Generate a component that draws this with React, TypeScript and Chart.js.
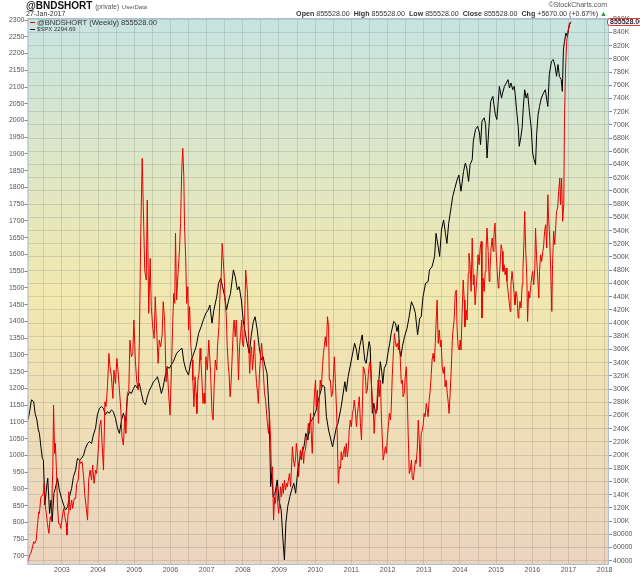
import { useEffect, useRef } from "react"
import { Chart, registerables } from "chart.js"

Chart.register(...registerables)

const FONT = "'Liberation Sans', Arial, sans-serif"

// $SPX weekly close: [decimal year, index level]
const spxPoints: [number, number][] = [
  [2002.06, 1106], [2002.11, 1131], [2002.16, 1166], [2002.22, 1161], [2002.26, 1126], [2002.31, 1106],
  [2002.35, 1076], [2002.38, 1066], [2002.42, 1026], [2002.46, 991], [2002.49, 986], [2002.53, 852],
  [2002.57, 897], [2002.61, 932], [2002.66, 827], [2002.7, 867], [2002.73, 802], [2002.78, 887],
  [2002.82, 902], [2002.88, 932], [2002.93, 897], [2002.99, 872], [2003.05, 852], [2003.1, 837],
  [2003.16, 847], [2003.21, 877], [2003.27, 902], [2003.32, 937], [2003.38, 956], [2003.43, 991],
  [2003.49, 986], [2003.54, 991], [2003.6, 1001], [2003.65, 1021], [2003.71, 1036], [2003.76, 1041],
  [2003.82, 1036], [2003.87, 1061], [2003.93, 1081], [2003.98, 1121], [2004.04, 1141], [2004.09, 1146],
  [2004.15, 1141], [2004.2, 1121], [2004.26, 1131], [2004.31, 1126], [2004.37, 1136], [2004.42, 1131],
  [2004.48, 1111], [2004.54, 1081], [2004.59, 1066], [2004.65, 1106], [2004.7, 1126], [2004.76, 1101],
  [2004.81, 1175], [2004.87, 1190], [2004.92, 1185], [2004.98, 1200], [2005.03, 1210], [2005.09, 1200],
  [2005.14, 1215], [2005.2, 1185], [2005.25, 1160], [2005.31, 1151], [2005.36, 1175], [2005.42, 1195],
  [2005.47, 1205], [2005.53, 1220], [2005.58, 1225], [2005.64, 1235], [2005.69, 1215], [2005.75, 1185],
  [2005.8, 1205], [2005.86, 1240], [2005.91, 1265], [2005.97, 1260], [2006.02, 1270], [2006.08, 1280],
  [2006.17, 1305], [2006.26, 1315], [2006.32, 1320], [2006.37, 1280], [2006.43, 1255], [2006.5, 1240],
  [2006.56, 1280], [2006.63, 1300], [2006.71, 1325], [2006.78, 1365], [2006.85, 1385], [2006.91, 1405],
  [2006.98, 1425], [2007.04, 1434], [2007.09, 1449], [2007.15, 1395], [2007.2, 1434], [2007.28, 1474],
  [2007.33, 1514], [2007.39, 1529], [2007.44, 1504], [2007.5, 1474], [2007.55, 1434], [2007.61, 1464],
  [2007.66, 1484], [2007.74, 1554], [2007.79, 1534], [2007.85, 1494], [2007.9, 1504], [2007.96, 1464],
  [2008.01, 1404], [2008.07, 1365], [2008.12, 1335], [2008.18, 1305], [2008.23, 1355], [2008.29, 1399],
  [2008.34, 1414], [2008.4, 1375], [2008.45, 1325], [2008.51, 1285], [2008.56, 1295], [2008.62, 1265],
  [2008.67, 1245], [2008.73, 1126], [2008.77, 907], [2008.8, 947], [2008.84, 877], [2008.89, 887],
  [2008.95, 927], [2009.0, 867], [2009.06, 837], [2009.11, 748], [2009.15, 688], [2009.19, 798],
  [2009.24, 847], [2009.3, 877], [2009.35, 897], [2009.41, 917], [2009.46, 887], [2009.52, 957],
  [2009.57, 987], [2009.63, 1006], [2009.69, 1026], [2009.74, 1066], [2009.8, 1046], [2009.85, 1096],
  [2009.91, 1106], [2009.96, 1116], [2010.03, 1136], [2010.09, 1166], [2010.14, 1186], [2010.2, 1210],
  [2010.26, 1205], [2010.31, 1116], [2010.37, 1076], [2010.48, 1026], [2010.59, 1086], [2010.63, 1096],
  [2010.72, 1146], [2010.82, 1220], [2010.86, 1191], [2010.91, 1235], [2011.0, 1285], [2011.09, 1335],
  [2011.14, 1315], [2011.18, 1285], [2011.23, 1325], [2011.3, 1360], [2011.37, 1285], [2011.41, 1275],
  [2011.49, 1340], [2011.52, 1325], [2011.58, 1126], [2011.62, 1156], [2011.67, 1126], [2011.71, 1136],
  [2011.74, 1196], [2011.8, 1280], [2011.84, 1250], [2011.87, 1215], [2011.91, 1260], [2011.97, 1275],
  [2012.01, 1305], [2012.06, 1335], [2012.1, 1365], [2012.17, 1400], [2012.22, 1395], [2012.26, 1370],
  [2012.3, 1390], [2012.33, 1315], [2012.37, 1295], [2012.41, 1325], [2012.47, 1355], [2012.54, 1380],
  [2012.59, 1410], [2012.66, 1459], [2012.72, 1444], [2012.77, 1424], [2012.83, 1360], [2012.89, 1410],
  [2012.93, 1414], [2012.98, 1474], [2013.05, 1514], [2013.12, 1519], [2013.16, 1554], [2013.23, 1564],
  [2013.3, 1594], [2013.34, 1663], [2013.4, 1623], [2013.44, 1594], [2013.49, 1673], [2013.55, 1703],
  [2013.6, 1663], [2013.64, 1633], [2013.69, 1693], [2013.76, 1743], [2013.8, 1773], [2013.86, 1798],
  [2013.92, 1822], [2013.97, 1837], [2014.03, 1789], [2014.1, 1848], [2014.15, 1873], [2014.19, 1858],
  [2014.24, 1818], [2014.28, 1868], [2014.34, 1883], [2014.37, 1938], [2014.43, 1973], [2014.49, 1983],
  [2014.54, 1963], [2014.57, 1928], [2014.61, 1998], [2014.67, 2008], [2014.71, 1988], [2014.75, 1888],
  [2014.8, 1978], [2014.85, 2057], [2014.91, 2072], [2014.94, 2047], [2014.98, 2017], [2015.02, 2003],
  [2015.06, 2057], [2015.09, 2102], [2015.15, 2067], [2015.18, 2082], [2015.23, 2102], [2015.28, 2112],
  [2015.33, 2122], [2015.37, 2097], [2015.41, 2112], [2015.46, 2092], [2015.5, 2102], [2015.53, 2077],
  [2015.57, 2027], [2015.61, 1983], [2015.64, 1923], [2015.68, 1948], [2015.72, 1978], [2015.75, 2037],
  [2015.79, 2092], [2015.83, 2067], [2015.87, 2082], [2015.92, 2027], [2015.97, 1978], [2016.01, 1903],
  [2016.05, 1883], [2016.09, 1868], [2016.12, 1958], [2016.16, 2017], [2016.2, 2042], [2016.25, 2067],
  [2016.31, 2082], [2016.36, 2092], [2016.4, 2062], [2016.43, 2042], [2016.47, 2137], [2016.53, 2177],
  [2016.58, 2182], [2016.63, 2162], [2016.67, 2132], [2016.71, 2167], [2016.75, 2132], [2016.8, 2122],
  [2016.83, 2087], [2016.86, 2211], [2016.89, 2236], [2016.93, 2261], [2016.97, 2251], [2017.0, 2271],
  [2017.03, 2286], [2017.07, 2294.69],
]

// @BNDSHORT weekly close in thousands: [decimal year, value K]
const bndPoints: [number, number][] = [
  [2002.06, 38.4], [2002.11, 48.5], [2002.14, 51.0], [2002.18, 58.6], [2002.22, 68.7], [2002.25, 66.2],
  [2002.29, 71.2], [2002.33, 96.4], [2002.36, 114.1], [2002.38, 111.6], [2002.42, 136.8], [2002.48, 139.4],
  [2002.51, 157.1], [2002.54, 124.2], [2002.57, 111.6], [2002.6, 96.4], [2002.64, 81.3], [2002.68, 106.6],
  [2002.71, 101.5], [2002.75, 182.3], [2002.77, 275.7], [2002.8, 202.5], [2002.82, 217.6], [2002.85, 177.3],
  [2002.88, 121.7], [2002.91, 96.4], [2002.94, 96.4], [2002.97, 88.9], [2003.01, 106.6], [2003.05, 119.2],
  [2003.08, 106.6], [2003.12, 96.4], [2003.14, 78.8], [2003.17, 111.6], [2003.19, 144.4], [2003.23, 116.7],
  [2003.27, 131.8], [2003.3, 119.2], [2003.34, 134.3], [2003.38, 134.3], [2003.41, 157.1], [2003.45, 162.1],
  [2003.49, 192.4], [2003.52, 187.3], [2003.56, 189.9], [2003.6, 167.2], [2003.63, 141.9], [2003.67, 121.7],
  [2003.71, 101.5], [2003.74, 162.1], [2003.78, 177.3], [2003.82, 162.1], [2003.85, 184.8], [2003.89, 157.1],
  [2003.93, 177.3], [2003.96, 172.2], [2004.0, 202.5], [2004.04, 242.9], [2004.08, 253.0], [2004.11, 217.6],
  [2004.15, 177.3], [2004.19, 280.8], [2004.22, 273.2], [2004.26, 303.5], [2004.3, 354.0], [2004.33, 333.8],
  [2004.37, 318.7], [2004.41, 285.9], [2004.44, 328.8], [2004.48, 308.6], [2004.52, 346.4], [2004.55, 328.8],
  [2004.59, 298.4], [2004.63, 268.1], [2004.66, 227.7], [2004.7, 215.1], [2004.74, 258.0], [2004.77, 232.8],
  [2004.81, 293.4], [2004.85, 298.4], [2004.88, 374.2], [2004.92, 348.9], [2004.96, 354.0], [2004.99, 404.5],
  [2005.03, 343.9], [2005.07, 311.1], [2005.11, 298.4], [2005.14, 369.2], [2005.18, 535.8], [2005.22, 649.4],
  [2005.25, 576.2], [2005.29, 480.3], [2005.33, 465.1], [2005.36, 586.3], [2005.4, 414.6], [2005.44, 497.9],
  [2005.47, 424.7], [2005.51, 394.4], [2005.55, 376.7], [2005.58, 439.8], [2005.62, 389.4], [2005.66, 338.9],
  [2005.69, 374.2], [2005.73, 364.1], [2005.77, 381.8], [2005.8, 432.3], [2005.84, 404.5], [2005.88, 311.1],
  [2005.91, 333.8], [2005.95, 293.4], [2005.99, 260.6], [2006.03, 333.8], [2006.06, 394.4], [2006.09, 444.9],
  [2006.12, 429.7], [2006.14, 535.8], [2006.17, 434.8], [2006.21, 475.2], [2006.25, 510.5], [2006.28, 551.0],
  [2006.31, 626.7], [2006.34, 664.6], [2006.37, 621.7], [2006.39, 545.9], [2006.42, 500.5], [2006.45, 429.7],
  [2006.48, 455.0], [2006.5, 389.4], [2006.53, 424.7], [2006.56, 369.2], [2006.6, 343.9], [2006.62, 313.6],
  [2006.65, 273.2], [2006.68, 318.7], [2006.71, 293.4], [2006.73, 263.1], [2006.76, 313.6], [2006.79, 323.7],
  [2006.82, 361.6], [2006.84, 343.9], [2006.87, 313.6], [2006.9, 278.2], [2006.93, 293.4], [2006.95, 278.2],
  [2006.98, 348.9], [2007.02, 328.8], [2007.06, 374.2], [2007.08, 354.0], [2007.11, 323.7], [2007.15, 263.1],
  [2007.18, 253.0], [2007.21, 308.6], [2007.24, 343.9], [2007.28, 328.8], [2007.3, 364.1], [2007.34, 394.4],
  [2007.37, 444.9], [2007.4, 465.1], [2007.43, 520.7], [2007.46, 495.4], [2007.49, 465.1], [2007.51, 434.8],
  [2007.54, 414.6], [2007.57, 364.1], [2007.6, 333.8], [2007.62, 323.7], [2007.65, 288.3], [2007.68, 313.6],
  [2007.71, 354.0], [2007.74, 394.4], [2007.76, 404.5], [2007.79, 379.2], [2007.82, 404.5], [2007.86, 354.0],
  [2007.88, 313.6], [2007.91, 364.1], [2007.94, 384.3], [2007.97, 404.5], [2007.99, 369.2], [2008.02, 364.1],
  [2008.05, 404.5], [2008.08, 480.3], [2008.1, 465.1], [2008.13, 444.9], [2008.16, 374.2], [2008.19, 323.7],
  [2008.21, 348.9], [2008.24, 364.1], [2008.27, 328.8], [2008.3, 354.0], [2008.32, 374.2], [2008.35, 333.8],
  [2008.38, 308.6], [2008.41, 293.4], [2008.43, 278.2], [2008.46, 323.7], [2008.49, 348.9], [2008.52, 369.2],
  [2008.54, 354.0], [2008.57, 323.7], [2008.6, 293.4], [2008.63, 283.3], [2008.65, 268.1], [2008.68, 248.0],
  [2008.71, 232.8], [2008.74, 258.1], [2008.77, 222.7], [2008.79, 172.2], [2008.82, 182.3], [2008.85, 101.5],
  [2008.88, 136.8], [2008.9, 126.8], [2008.93, 152.0], [2008.96, 131.8], [2008.99, 111.6], [2009.01, 121.7],
  [2009.04, 152.0], [2009.07, 136.8], [2009.1, 157.1], [2009.12, 141.9], [2009.15, 162.1], [2009.18, 147.0],
  [2009.21, 157.1], [2009.23, 152.0], [2009.26, 162.1], [2009.29, 172.2], [2009.32, 152.0], [2009.34, 172.2],
  [2009.37, 212.6], [2009.4, 192.4], [2009.43, 182.3], [2009.46, 197.4], [2009.48, 217.6], [2009.51, 202.5],
  [2009.54, 167.1], [2009.57, 192.4], [2009.59, 207.5], [2009.62, 192.4], [2009.65, 212.6], [2009.68, 187.4],
  [2009.7, 202.5], [2009.73, 207.5], [2009.76, 222.7], [2009.79, 232.8], [2009.81, 248.0], [2009.84, 232.8],
  [2009.87, 263.1], [2009.9, 222.7], [2009.92, 202.5], [2009.95, 258.1], [2009.98, 293.4], [2010.01, 313.6],
  [2010.03, 273.2], [2010.06, 298.5], [2010.09, 248.0], [2010.12, 293.4], [2010.14, 313.6], [2010.17, 298.5],
  [2010.2, 333.8], [2010.23, 354.0], [2010.25, 364.1], [2010.28, 379.2], [2010.31, 364.1], [2010.34, 409.5],
  [2010.37, 394.4], [2010.39, 313.6], [2010.42, 313.6], [2010.45, 288.3], [2010.48, 293.4], [2010.5, 313.6],
  [2010.53, 348.9], [2010.56, 308.6], [2010.59, 268.2], [2010.61, 232.8], [2010.64, 157.0], [2010.67, 182.3],
  [2010.7, 179.8], [2010.72, 205.0], [2010.75, 192.4], [2010.78, 202.5], [2010.81, 212.6], [2010.83, 197.4],
  [2010.86, 217.6], [2010.89, 197.4], [2010.92, 212.6], [2010.94, 237.9], [2010.97, 253.0], [2011.0, 242.9],
  [2011.03, 263.1], [2011.06, 270.7], [2011.08, 283.3], [2011.11, 268.2], [2011.14, 242.9], [2011.17, 263.1],
  [2011.19, 273.2], [2011.22, 288.3], [2011.25, 248.0], [2011.28, 222.7], [2011.3, 263.1], [2011.33, 333.8],
  [2011.36, 328.8], [2011.39, 318.7], [2011.41, 293.4], [2011.44, 298.4], [2011.47, 323.7], [2011.5, 338.9],
  [2011.52, 341.4], [2011.55, 313.6], [2011.58, 283.3], [2011.61, 263.1], [2011.63, 232.8], [2011.66, 268.2],
  [2011.69, 263.1], [2011.72, 293.4], [2011.74, 313.6], [2011.77, 288.3], [2011.8, 313.6], [2011.83, 258.1],
  [2011.86, 217.6], [2011.88, 192.4], [2011.91, 202.5], [2011.94, 212.6], [2011.97, 202.5], [2011.99, 222.7],
  [2012.02, 242.9], [2012.05, 263.1], [2012.08, 253.0], [2012.1, 268.2], [2012.13, 318.7], [2012.16, 354.0],
  [2012.19, 384.3], [2012.21, 374.2], [2012.24, 364.1], [2012.27, 369.2], [2012.3, 359.1], [2012.32, 374.2],
  [2012.35, 348.9], [2012.38, 308.6], [2012.41, 313.6], [2012.43, 288.3], [2012.46, 293.4], [2012.49, 318.7],
  [2012.52, 333.8], [2012.54, 298.4], [2012.57, 232.8], [2012.6, 172.2], [2012.63, 177.2], [2012.66, 192.4],
  [2012.68, 167.2], [2012.71, 162.1], [2012.74, 177.2], [2012.77, 192.4], [2012.79, 187.4], [2012.82, 207.5],
  [2012.85, 253.0], [2012.88, 217.6], [2012.9, 182.3], [2012.93, 232.8], [2012.96, 237.9], [2012.99, 248.0],
  [2013.01, 263.1], [2013.04, 258.1], [2013.07, 278.3], [2013.1, 268.2], [2013.12, 258.1], [2013.15, 283.3],
  [2013.18, 298.4], [2013.21, 323.7], [2013.23, 343.9], [2013.26, 354.0], [2013.29, 341.4], [2013.32, 369.2],
  [2013.34, 399.4], [2013.37, 434.8], [2013.4, 369.2], [2013.43, 389.4], [2013.46, 364.1], [2013.48, 374.2],
  [2013.51, 333.8], [2013.54, 323.7], [2013.57, 333.8], [2013.59, 303.5], [2013.62, 313.6], [2013.65, 293.4],
  [2013.68, 278.3], [2013.7, 263.1], [2013.73, 293.4], [2013.76, 328.8], [2013.79, 374.2], [2013.81, 389.4],
  [2013.84, 404.5], [2013.87, 444.9], [2013.9, 450.0], [2013.92, 394.4], [2013.95, 364.1], [2013.98, 359.1],
  [2014.01, 374.2], [2014.03, 359.1], [2014.06, 414.6], [2014.09, 465.1], [2014.12, 434.8], [2014.14, 394.4],
  [2014.17, 419.6], [2014.2, 404.5], [2014.23, 475.2], [2014.25, 505.5], [2014.28, 488.3], [2014.31, 447.9],
  [2014.34, 528.7], [2014.37, 457.9], [2014.39, 473.1], [2014.42, 427.7], [2014.45, 452.9], [2014.48, 478.2],
  [2014.5, 503.4], [2014.53, 488.3], [2014.56, 513.5], [2014.59, 523.6], [2014.61, 407.5], [2014.64, 468.1],
  [2014.67, 447.9], [2014.7, 478.2], [2014.72, 508.5], [2014.75, 543.8], [2014.78, 508.5], [2014.81, 463.0],
  [2014.83, 478.2], [2014.86, 513.5], [2014.89, 528.7], [2014.92, 508.5], [2014.94, 533.7], [2014.97, 551.4],
  [2015.0, 508.5], [2015.03, 478.2], [2015.06, 452.9], [2015.08, 463.0], [2015.11, 488.3], [2015.14, 518.6],
  [2015.17, 508.5], [2015.19, 478.2], [2015.22, 488.3], [2015.25, 473.1], [2015.28, 483.2], [2015.3, 463.0],
  [2015.33, 447.9], [2015.36, 432.7], [2015.39, 417.6], [2015.41, 457.9], [2015.44, 478.2], [2015.47, 463.0],
  [2015.5, 442.8], [2015.52, 427.7], [2015.55, 447.9], [2015.58, 437.8], [2015.61, 407.5], [2015.63, 417.6],
  [2015.66, 432.7], [2015.69, 422.6], [2015.72, 457.9], [2015.74, 478.2], [2015.77, 523.6], [2015.79, 569.1],
  [2015.82, 508.5], [2015.85, 468.1], [2015.87, 402.4], [2015.9, 447.9], [2015.93, 437.8], [2015.96, 457.9],
  [2015.98, 468.1], [2016.01, 478.2], [2016.04, 457.9], [2016.07, 483.2], [2016.09, 543.8], [2016.12, 498.4],
  [2016.15, 468.1], [2016.18, 437.8], [2016.2, 478.2], [2016.23, 503.4], [2016.26, 493.3], [2016.29, 508.5],
  [2016.31, 513.5], [2016.34, 538.8], [2016.37, 548.9], [2016.4, 513.5], [2016.43, 594.3], [2016.45, 559.0],
  [2016.48, 528.7], [2016.51, 478.2], [2016.54, 417.6], [2016.56, 488.3], [2016.59, 538.8], [2016.62, 518.6],
  [2016.65, 548.9], [2016.67, 569.1], [2016.7, 574.1], [2016.73, 599.4], [2016.76, 619.6], [2016.78, 579.2],
  [2016.81, 619.6], [2016.84, 553.9], [2016.87, 579.2], [2016.89, 710.5], [2016.92, 786.2], [2016.95, 826.6],
  [2016.98, 839.2], [2017.0, 846.8], [2017.03, 854.4], [2017.07, 855.528],
]

const yearLabels = [2003, 2004, 2005, 2006, 2007, 2008, 2009, 2010, 2011, 2012, 2013, 2014, 2015, 2016, 2017, 2018]
const spxTicks = [
  700, 750, 800, 850, 900, 950, 1000, 1050, 1100, 1150, 1200, 1250, 1300, 1350, 1400, 1450, 1500,
  1550, 1600, 1650, 1700, 1750, 1800, 1850, 1900, 1950, 2000, 2050, 2100, 2150, 2200, 2250, 2300,
]
const bndTicksK = [
  40, 60, 80, 100, 120, 140, 160, 180, 200, 220, 240, 260, 280, 300, 320, 340, 360, 380, 400, 420, 440,
  460, 480, 500, 520, 540, 560, 580, 600, 620, 640, 660, 680, 700, 720, 740, 760, 780, 800, 820, 840, 860,
]

const tickFont = { family: FONT, size: 7 }
const gridColor = "rgba(105, 125, 110, 0.22)"

const plotBackground = {
  id: "plotBackground",
  beforeDraw(chart: Chart) {
    const { ctx, chartArea: a } = chart
    const g = ctx.createLinearGradient(0, a.top, 0, a.bottom)
    g.addColorStop(0, "#c7e4e1")
    g.addColorStop(0.5, "#f1e8af")
    g.addColorStop(1, "#ecd3bf")
    ctx.save()
    ctx.fillStyle = g
    ctx.fillRect(a.left, a.top, a.right - a.left, a.bottom - a.top)
    ctx.restore()
  },
  afterDatasetsDraw(chart: Chart) {
    const { ctx, chartArea: a } = chart
    ctx.save()
    ctx.strokeStyle = "#a9c0d6"
    ctx.lineWidth = 1
    ctx.strokeRect(a.left + 0.5, a.top + 0.5, a.right - a.left - 1, a.bottom - a.top - 1)
    ctx.restore()
  },
}

export default function App() {
  const canvasRef = useRef<HTMLCanvasElement>(null)
  const chartRef = useRef<Chart | null>(null)

  useEffect(() => {
    document.body.style.margin = "0"
    if (!canvasRef.current) return
    const ctx = canvasRef.current.getContext("2d")
    if (!ctx) return

    chartRef.current = new Chart(ctx, {
      type: "line",
      data: {
        datasets: [
          {
            label: "@BNDSHORT",
            data: bndPoints.map(([x, y]) => ({ x, y })),
            yAxisID: "y2",
            borderColor: "rgb(232, 0, 0)",
            borderWidth: 1,
            pointRadius: 0,
          },
          {
            label: "$SPX",
            data: spxPoints.map(([x, y]) => ({ x, y })),
            yAxisID: "y",
            borderColor: "#000",
            borderWidth: 1,
            pointRadius: 0,
          },
        ],
      },
      options: {
        responsive: false,
        animation: false,
        layout: { padding: { top: 18, left: 0, right: 0, bottom: 0 } },
        plugins: { legend: { display: false }, tooltip: { enabled: false } },
        scales: {
          x: {
            type: "linear",
            min: 2002.05,
            max: 2018.12,
            afterBuildTicks: (scale: any) => {
              scale.ticks = yearLabels.flatMap((y) => [y - 0.5, y]).map((value) => ({ value }))
            },
            afterFit: (scale: any) => {
              scale.height = 11
            },
            ticks: {
              autoSkip: false,
              maxRotation: 0,
              padding: 1,
              font: tickFont,
              color: "#555",
              callback: (v: any) => (Number.isInteger(v) ? String(v) : ""),
            },
            grid: { color: gridColor, tickLength: 0 },
            border: { display: false },
          },
          y: {
            position: "left",
            min: 673,
            max: 2306,
            afterBuildTicks: (scale: any) => {
              scale.ticks = spxTicks.map((value) => ({ value }))
            },
            afterFit: (scale: any) => {
              scale.width = 27.5
            },
            ticks: {
              autoSkip: false,
              padding: 0,
              font: tickFont,
              color: "#555",
              callback: (v: any) => String(v),
            },
            grid: { drawOnChartArea: false, tickLength: 3, tickColor: "#8a8a8a" },
            border: { display: false },
          },
          y2: {
            position: "right",
            min: 33.49,
            max: 861.97,
            afterBuildTicks: (scale: any) => {
              scale.ticks = bndTicksK.map((value) => ({ value }))
            },
            afterFit: (scale: any) => {
              scale.width = 31
            },
            ticks: {
              autoSkip: false,
              padding: 1,
              font: tickFont,
              color: "#555",
              callback: (v: any) => (v < 100 ? String(v * 1000) : v + "K"),
            },
            grid: { color: gridColor, tickLength: 3, tickColor: "#8a8a8a" },
            border: { display: false },
          },
        },
      },
      plugins: [plotBackground],
    })

    return () => {
      if (chartRef.current) {
        chartRef.current.destroy()
        chartRef.current = null
      }
    }
  }, [])

  const abs = { position: "absolute" as const, whiteSpace: "nowrap" as const }

  return (
    <div style={{ position: "relative", width: 640, height: 576, overflow: "hidden", background: "#fff", fontFamily: FONT }}>
      <canvas ref={canvasRef} width={640} height={576} />

      <div style={{ ...abs, left: 26, top: 1, fontSize: 10, lineHeight: "10px", fontWeight: "bold", color: "#111" }}>
        @BNDSHORT{" "}
        <span style={{ fontSize: 6.5, fontWeight: "normal", color: "#555" }}>(private)</span>{" "}
        <span style={{ fontSize: 6, fontWeight: "normal", color: "#555" }}>UserData</span>
      </div>
      <div style={{ ...abs, left: 26, top: 10, fontSize: 7, lineHeight: "8px", color: "#333" }}>27-Jan-2017</div>
      <div style={{ ...abs, right: 33, top: 1, fontSize: 7, lineHeight: "8px", color: "#555" }}>©StockCharts.com</div>
      <div style={{ ...abs, right: 33, top: 10, fontSize: 7.1, lineHeight: "8px", color: "#333" }}>
        <b>Open</b> 855528.00 <b style={{ marginLeft: 2 }}>High</b> 855528.00 <b style={{ marginLeft: 2 }}>Low</b>{" "}
        855528.00 <b style={{ marginLeft: 2 }}>Close</b> 855528.00 <b style={{ marginLeft: 2 }}>Chg</b> +5670.00
        (+0.67%) <span style={{ color: "#2a9a2a" }}>▲</span>
      </div>

      <div style={{ ...abs, left: 30, top: 21.5, width: 5, height: 1.6, background: "#e00000" }} />
      <div style={{ ...abs, left: 37, top: 18.5, fontSize: 7.6, lineHeight: "8px", color: "#333" }}>
        @BNDSHORT (Weekly) 855528.00
      </div>
      <div style={{ ...abs, left: 30, top: 28.5, width: 5, height: 1.6, background: "#222" }} />
      <div style={{ ...abs, left: 37, top: 26, fontSize: 6, lineHeight: "7px", color: "#333" }}>$SPX 2294.69</div>

      <div
        style={{
          ...abs,
          left: 607,
          top: 18.3,
          height: 6,
          padding: "0 2px",
          border: "1px solid #e33",
          borderRadius: 3,
          background: "#fff",
          fontSize: 7,
          lineHeight: "6px",
          fontWeight: "bold",
          color: "#223",
        }}
      >
        855528.00
      </div>
    </div>
  )
}
